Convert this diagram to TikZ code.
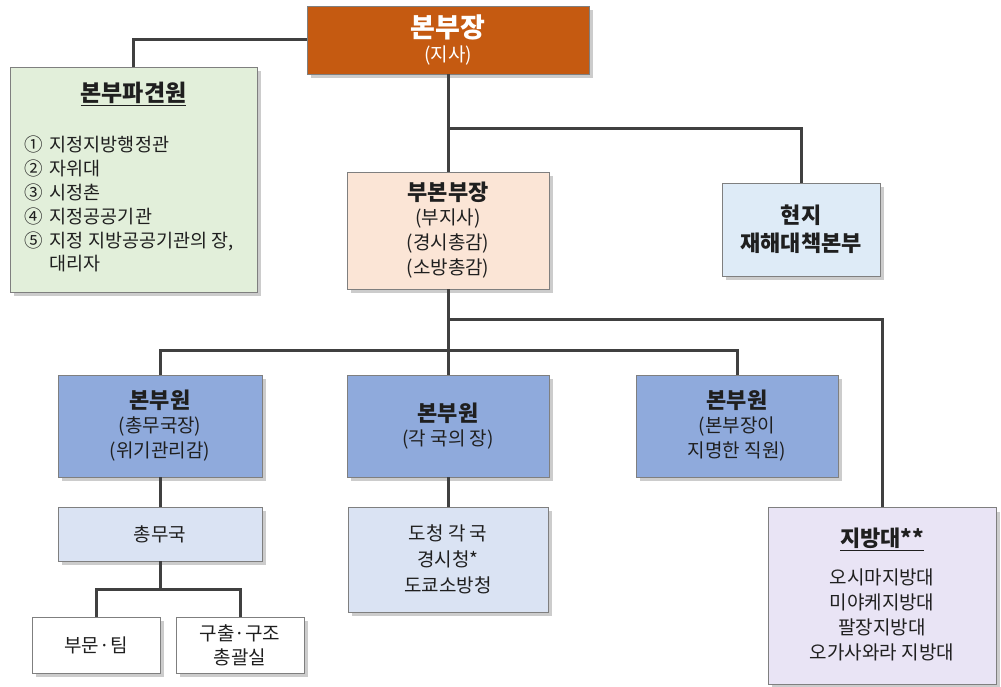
\documentclass[tikz,border=0pt]{standalone}
\usepackage{fontspec}
\setmainfont{Noto Sans CJK KR}
\usetikzlibrary{shadows}
\definecolor{cOrange}{HTML}{C55A11}
\definecolor{cGreen}{HTML}{E2EFDA}
\definecolor{cPeach}{HTML}{FBE5D6}
\definecolor{cLight}{HTML}{DEEBF7}
\definecolor{cBlue}{HTML}{8FAADC}
\definecolor{cPale}{HTML}{DAE3F3}
\definecolor{cLav}{HTML}{E9E4F5}
\definecolor{cText}{HTML}{1F1F1F}
\definecolor{cLine}{HTML}{404040}
\definecolor{cBorder}{HTML}{7F7F7F}
\tikzset{
  box/.style={draw=cBorder, line width=0.8pt, rectangle, inner sep=0pt, align=center,
    text=cText, font=\fontsize{19}{25}\selectfont,
    drop shadow={shadow xshift=4pt, shadow yshift=-4pt, fill=black!40, opacity=0.5}},
  txt/.style={inner sep=0pt, align=center, text=cText, font=\fontsize{19}{25}\selectfont},
  conn/.style={draw=cLine, line width=3pt},
}
\newcommand{\ttl}[1]{{\fontsize{22}{27}\selectfont\bfseries #1}}
\begin{document}
\begin{tikzpicture}[x=1pt,y=-1pt]
\useasboundingbox (0,0) rectangle (1001,687);
% nodes
\node[box, fill=cOrange, text=white, minimum width=282pt, minimum height=68pt] (top) at (448,40)
  {{\fontsize{27}{28}\selectfont\bfseries 본부장}\\[-1pt]{\fontsize{19}{22}\selectfont (지사)}};
\node[box, fill=cGreen, minimum width=247pt, minimum height=225pt] (pag) at (133.5,179.5) {};
\node[txt, anchor=center] (pagt) at (133.5,94) {{\fontsize{23}{27}\selectfont\bfseries\underline{본부파견원}}};
\node[txt, align=left, anchor=north west, font=\fontsize{18.5}{23.8}\selectfont] (pagl) at (24,136)
  {①\, 지정지방행정관\\②\, 자위대\\③\, 시정촌\\④\, 지정공공기관\\⑤\, 지정 지방공공기관의 장,\\\phantom{⑤\,} 대리자};
\node[box, fill=cPeach, minimum width=202pt, minimum height=117pt] (bub) at (448,230.5)
  {\ttl{부본부장}\\[-1pt](부지사)\\(경시총감)\\(소방총감)};
\node[box, fill=cLight, minimum width=158pt, minimum height=93pt] (hy) at (801,229.5)
  {\ttl{현지}\\[3pt]\ttl{재해대책본부}};
\node[box, fill=cBlue, minimum width=204pt, minimum height=102pt] (bw1) at (160,426)
  {\ttl{본부원}\\[-1pt](총무국장)\\(위기관리감)};
\node[box, fill=cBlue, minimum width=202pt, minimum height=102pt] (bw2) at (448,426)
  {\ttl{본부원}\\[-1pt](각 국의 장)};
\node[box, fill=cBlue, minimum width=202pt, minimum height=102pt] (bw3) at (737,426)
  {\ttl{본부원}\\[-1pt](본부장이\\지명한 직원)};
\node[box, fill=cPale, minimum width=204pt, minimum height=54pt] (cm) at (160,534) {총무국};
\node[box, fill=white, minimum width=128pt, minimum height=56pt] (bm) at (96,645) {부문·팀};
\node[box, fill=white, minimum width=128pt, minimum height=56pt] (gc) at (240,645) {구출·구조\\[-1pt]총괄실};
\node[box, fill=cPale, minimum width=200pt, minimum height=105pt] (dc) at (448,559.5)
  {도청 각 국\\[1pt]경시청*\\[1pt]도쿄소방청};
\node[box, fill=cLav, minimum width=228pt, minimum height=177pt] (jb) at (882,596) {};
\node[txt] (jbt) at (882,539) {\ttl{\underline{지방대**}}};
\node[txt, anchor=north] (jbl) at (882,569)
  {오시마지방대\\미야케지방대\\팔장지방대\\오가사와라 지방대};
% connectors
\coordinate (j1) at (448,129);
\coordinate (j2) at (448,319);
\coordinate (j3) at (448,350);
\coordinate (j4) at (160,589);
\draw[conn] (top.west) -| (pag.north);
\draw[conn] (top.south) -- (bub.north);
\draw[conn] (j1) -| (hy.north);
\draw[conn] (bub.south) -- (bw2.north);
\draw[conn] (j2) -| (jb.north);
\draw[conn] (bw1.north) |- (j3) -| (bw3.north);
\draw[conn] (bw1.south) -- (cm.north);
\draw[conn] (cm.south) -- (j4);
\draw[conn] (bm.north) |- (j4) -| (gc.north);
\draw[conn] (bw2.south) -- (dc.north);
\end{tikzpicture}
\end{document}
